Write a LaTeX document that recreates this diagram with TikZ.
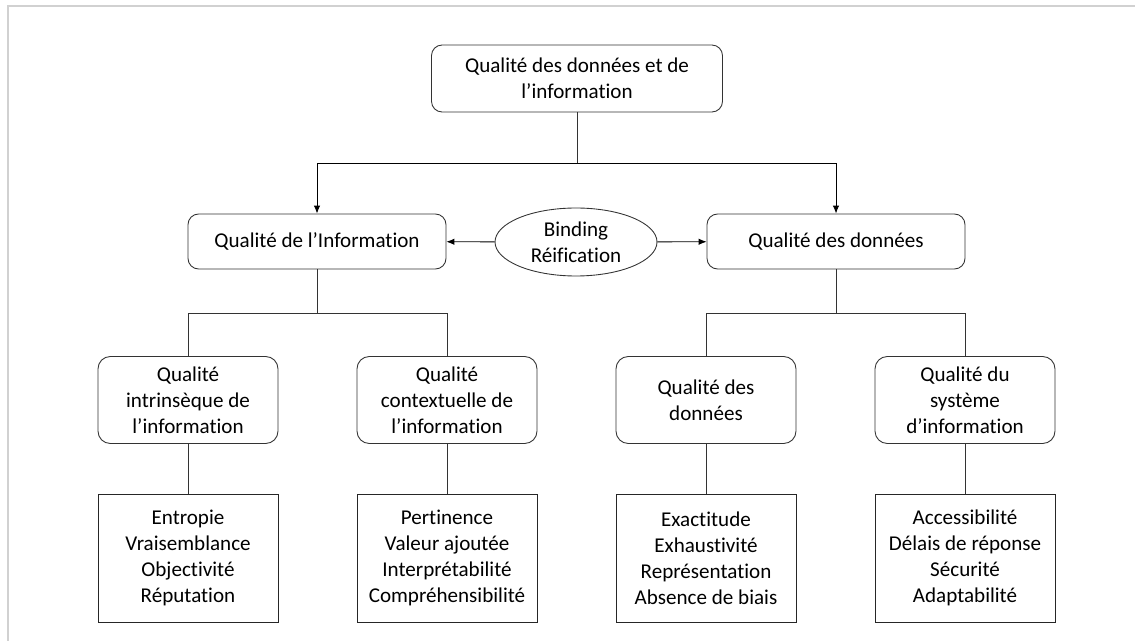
\documentclass[tikz,border=0pt]{standalone}
\usepackage{fontspec}
\setmainfont{Carlito}[Ligatures=NoCommon]
\usepackage{tikz}
\usetikzlibrary{positioning,arrows.meta,shapes.geometric}

\begin{document}
\begin{tikzpicture}[x=0.02cm,y=-0.02cm,
  every node/.style={font=\fontsize{12}{14.8}\selectfont, align=center, inner sep=1pt},
  topbox/.style={draw=black!80, line width=0.5pt, rounded corners=6pt, minimum width=5.82cm, minimum height=1.34cm},
  midbox/.style={draw=black!80, line width=0.5pt, rounded corners=6pt, minimum width=5.16cm, minimum height=1.1cm},
  subbox/.style={draw=black!80, line width=0.5pt, rounded corners=7pt, minimum width=3.6cm, minimum height=1.74cm},
  leafbox/.style={draw=black!85, line width=0.5pt, minimum width=3.6cm, minimum height=2.56cm},
  linkell/.style={draw=black!80, line width=0.5pt, ellipse, inner sep=0pt, minimum width=3.24cm, minimum height=1.36cm},
  fleche/.style={line width=0.5pt, -{Latex[length=4.5pt,width=3.6pt]}},
  lien/.style={line width=0.5pt, black!80}]

  \useasboundingbox (0,0) rectangle (1135,641);
  % cadre
  \draw[black!18, line width=0.8pt] (8,641) -- (8,6) -- (1135,6);

  % niveau 1 et 2
  \node[topbox] (top) at (577,78.5) {Qualité des données et de\\l’information};
  \node[midbox] (info) at (317,241.5) {Qualité de l’Information};
  \node[midbox] (data) at (836,241.5) {Qualité des données};
  \node[linkell] (bind) at (576,242) {Binding\\Réification};

  \coordinate (b1) at (577,163);
  \draw[lien] (top.south) -- (b1);
  \draw[fleche] (b1) -| (info.north);
  \draw[fleche] (b1) -| (data.north);
  \draw[fleche] (bind) -- (info);
  \draw[fleche] (bind) -- (data);

  % niveau 3
  \node[subbox] (intr) at (188,400) {Qualité\\intrinsèque de\\l’information};
  \node[subbox] (cont) at (447,400) {Qualité\\contextuelle de\\l’information};
  \node[subbox] (donn) at (706,400) {Qualité des\\données};
  \node[subbox] (syst) at (965,400) {Qualité du\\système\\d’information};

  \coordinate (b2) at (317,313);
  \coordinate (b3) at (836,313);
  \draw[lien] (info.south) -- (b2) -| (intr.north);
  \draw[lien] (b2) -| (cont.north);
  \draw[lien] (data.south) -- (b3) -| (donn.north);
  \draw[lien] (b3) -| (syst.north);

  % criteres
  \node[leafbox] (ent) at (188,558) {Entropie\\Vraisemblance\\Objectivité\\Réputation};
  \node[leafbox] (pert) at (447,558) {Pertinence\\Valeur ajoutée\\Interprétabilité\\Compréhensibilité};
  \node[leafbox] (exa) at (706,558) {Exactitude\\Exhaustivité\\Représentation\\Absence de biais};
  \node[leafbox] (acc) at (965,558) {Accessibilité\\Délais de réponse\\Sécurité\\Adaptabilité};

  \draw[lien] (intr) -- (ent);
  \draw[lien] (cont) -- (pert);
  \draw[lien] (donn) -- (exa);
  \draw[lien] (syst) -- (acc);
\end{tikzpicture}
\end{document}
